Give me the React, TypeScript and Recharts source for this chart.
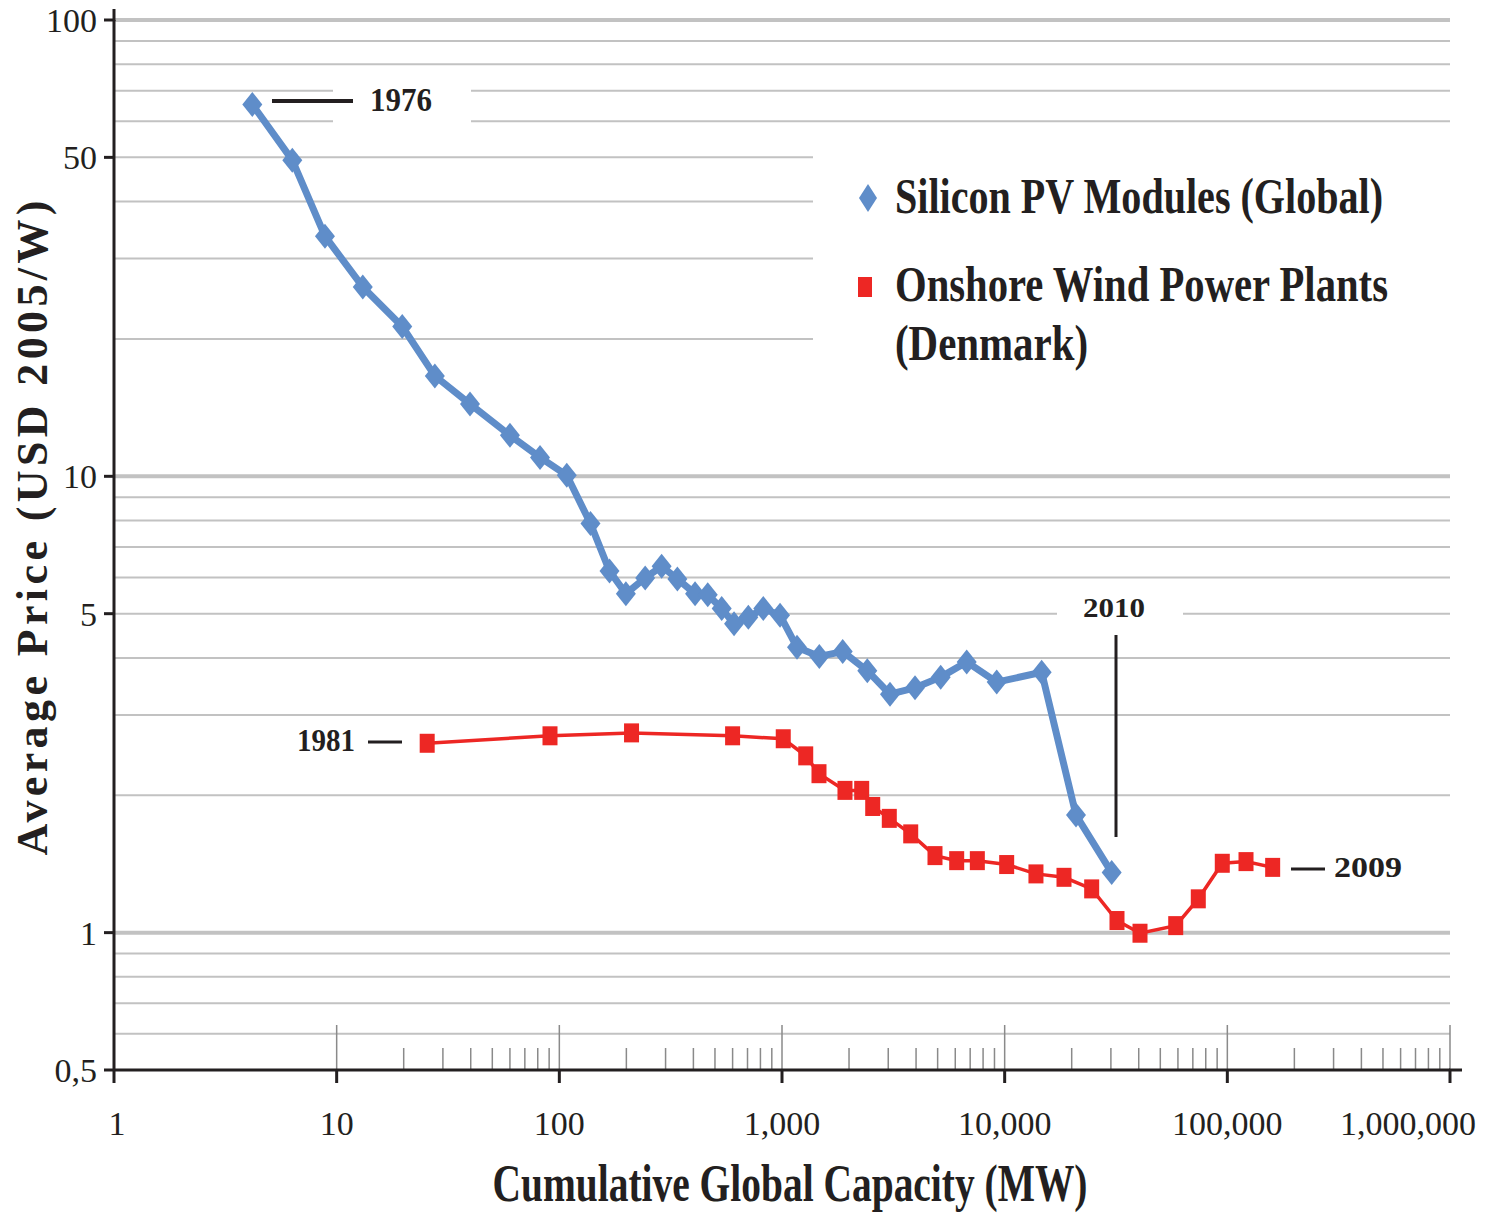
import React from 'react';
import { LineChart, Line, XAxis, YAxis, ReferenceLine } from 'recharts';

// ---- data ----
const pvCapacity = [4.18, 6.32, 8.86, 13.1, 19.7, 27.6, 39.7, 60.0, 81.9, 108, 138, 168, 199, 243, 288, 339, 407, 464, 536, 609, 706, 824, 980, 1168, 1471, 1873, 2416, 3055, 3957, 5160, 6753, 9210, 14660, 20910, 30240];
const pvPrice = [65.3, 49.3, 33.6, 26.0, 21.3, 16.6, 14.4, 12.3, 11.0, 10.05, 7.88, 6.2, 5.53, 5.99, 6.35, 5.96, 5.53, 5.5, 5.13, 4.75, 4.91, 5.13, 4.96, 4.22, 4.03, 4.13, 3.75, 3.33, 3.44, 3.63, 3.92, 3.54, 3.72, 1.81, 1.354];
const windCapacity = [25.5, 90.8, 211, 600, 1013, 1278, 1466, 1918, 2280, 2555, 3033, 3785, 4865, 6089, 7538, 10210, 13820, 18470, 24590, 31950, 40530, 58640, 74060, 94910, 121300, 159800];
const windPrice = [2.6, 2.7, 2.74, 2.7, 2.66, 2.44, 2.23, 2.05, 2.05, 1.89, 1.78, 1.646, 1.475, 1.438, 1.438, 1.41, 1.345, 1.322, 1.247, 1.063, 0.997, 1.036, 1.186, 1.419, 1.431, 1.39];

const xTicks = [1, 10, 100, 1000, 10000, 100000, 1000000];
const xTickLabels = ['1', '10', '100', '1,000', '10,000', '100,000', '1,000,000'];
const yTicks = [0.5, 1, 5, 10, 50, 100];
const yTickLabels = ['0,5', '1', '5', '10', '50', '100'];
const yGridMinor = [0.6, 0.7, 0.8, 0.9, 2, 3, 4, 5, 6, 7, 8, 9, 20, 30, 40, 50, 60, 70, 80, 90];
const yGridMajor = [1, 10, 100];
const xMinorTicks = [20, 30, 40, 50, 60, 70, 80, 90, 200, 300, 400, 500, 600, 700, 800, 900, 2000, 3000, 4000, 5000, 6000, 7000, 8000, 9000, 20000, 30000, 40000, 50000, 60000, 70000, 80000, 90000, 200000, 300000, 400000, 500000, 600000, 700000, 800000, 900000];
const xMajorInner = [10, 100, 1000, 10000, 100000, 1000000];

const seriesNames = ['Silicon PV Modules (Global)', 'Onshore Wind Power Plants', '(Denmark)'];
const yearLabels = ['1976', '1981', '2010', '2009'];

const pvData = pvCapacity.map((x, i) => ({ x, y: pvPrice[i] }));
const windData = windCapacity.map((x, i) => ({ x, y: windPrice[i] }));

const BLUE = '#5F8DC9';
const RED = '#ED2724';
const INK = '#231f20';
const GRID = '#c2c2c2';
const FONT = '"Liberation Serif", "DejaVu Serif", serif';

const minorTop = 0.5 * Math.pow(10, 22 / 456);
const majorTop = 0.5 * Math.pow(10, 45 / 456);

const renderDiamond = (p: any) => {
  const { cx, cy, index } = p;
  if (cx == null || cy == null) return <g key={`d${index}`} />;
  return <path key={`d${index}`} d={`M${cx},${cy - 12.5}L${cx + 10},${cy}L${cx},${cy + 12.5}L${cx - 10},${cy}Z`} fill={BLUE} />;
};
const renderSquare = (p: any) => {
  const { cx, cy, index } = p;
  if (cx == null || cy == null) return <g key={`s${index}`} />;
  return <rect key={`s${index}`} x={cx - 7.5} y={cy - 9.5} width={15} height={19} fill={RED} />;
};

const XTick = (props: any) => {
  const { x, y, index } = props;
  const dx = index === 6 ? -42 : index === 0 ? 3 : 0;
  return (
    <text x={x + dx} y={y} dy="0.71em" textAnchor="middle" fontFamily={FONT} fontSize={34} fill={INK}>
      {xTickLabels[index]}
    </text>
  );
};

const TallText = ({ x, y, size, sy, len, children, bold = true, anchor = 'start' }: any) => (
  <text
    transform={`translate(${x},${y}) scale(1,${sy})`}
    x={0}
    y={0}
    textAnchor={anchor}
    fontFamily={FONT}
    fontWeight={bold ? 'bold' : 'normal'}
    fontSize={size}
    fill={INK}
    textLength={len}
    lengthAdjust="spacingAndGlyphs"
  >
    {children}
  </text>
);

export default function App() {
  return (
    <div style={{ position: 'absolute', left: 0, top: 0, width: 1493, height: 1215, background: '#fff' }}>
      <LineChart width={1493} height={1215} margin={{ top: 20, right: 43, bottom: 85, left: 0 }}>
        <XAxis
          type="number"
          dataKey="x"
          scale="log"
          domain={[1, 1000000]}
          ticks={xTicks}
          interval={0}
          allowDataOverflow
          height={60}
          axisLine={{ stroke: INK, strokeWidth: 3 }}
          tickLine={{ stroke: INK, strokeWidth: 3 }}
          tickSize={13}
          tickMargin={28}
          tick={<XTick />}
        />
        <YAxis
          type="number"
          dataKey="y"
          scale="log"
          domain={[0.5, 100]}
          ticks={yTicks}
          interval={0}
          allowDataOverflow
          width={114}
          axisLine={{ stroke: INK, strokeWidth: 3 }}
          tickLine={{ stroke: INK, strokeWidth: 3 }}
          tickSize={10}
          tickMargin={7}
          tickFormatter={(v: number, i: number) => yTickLabels[i]}
          tick={{ fontFamily: FONT, fontSize: 34, fill: INK }}
        />
        {yGridMinor.map((v) => (
          <ReferenceLine key={`gm${v}`} y={v} stroke={GRID} strokeWidth={2} />
        ))}
        {yGridMajor.map((v) => (
          <ReferenceLine key={`gM${v}`} y={v} stroke={GRID} strokeWidth={4} />
        ))}
        {xMinorTicks.map((v) => (
          <ReferenceLine key={`xm${v}`} segment={[{ x: v, y: 0.5 }, { x: v, y: minorTop }]} stroke="#8a8a8a" strokeWidth={1.5} />
        ))}
        {xMajorInner.map((v) => (
          <ReferenceLine key={`xM${v}`} segment={[{ x: v, y: 0.5 }, { x: v, y: majorTop }]} stroke="#8a8a8a" strokeWidth={1.5} />
        ))}
        <Line
          data={windData}
          dataKey="y"
          type="linear"
          stroke={RED}
          strokeWidth={3.5}
          dot={renderSquare}
          activeDot={false}
          isAnimationActive={false}
        />
        <Line
          data={pvData}
          dataKey="y"
          type="linear"
          stroke={BLUE}
          strokeWidth={7}
          strokeLinejoin="round"
          dot={renderDiamond}
          activeDot={false}
          isAnimationActive={false}
        />
      </LineChart>
      <svg width={1493} height={1215} style={{ position: 'absolute', left: 0, top: 0, pointerEvents: 'none' }}>
        {/* axis extensions */}
        <line x1={114} y1={9} x2={114} y2={21} stroke={INK} strokeWidth={3} />
        <line x1={1449} y1={1070} x2={1462} y2={1070} stroke={INK} strokeWidth={3} />
        {/* label backgrounds */}
        <rect x={333} y={70} width={138} height={65} fill="#fff" />
        <rect x={813} y={133} width={645} height={270} fill="#fff" />
        <rect x={1057} y={583} width={126} height={44} fill="#fff" />
        {/* annotations */}
        <line x1={272} y1={101} x2={353} y2={101} stroke={INK} strokeWidth={4} />
        <TallText x={370} y={111} size={30} sy={1.15} len={62}>{yearLabels[0]}</TallText>
        <TallText x={297} y={751} size={28} sy={1.1} len={58}>{yearLabels[1]}</TallText>
        <line x1={368} y1={742} x2={402} y2={742} stroke={INK} strokeWidth={3} />
        <TallText x={1114} y={617} size={28} sy={1} len={62} anchor="middle">{yearLabels[2]}</TallText>
        <line x1={1116} y1={635} x2={1116} y2={837} stroke={INK} strokeWidth={3} />
        <line x1={1291} y1={869} x2={1325} y2={869} stroke={INK} strokeWidth={3} />
        <TallText x={1334} y={877} size={29} sy={1.05} len={68}>{yearLabels[3]}</TallText>
        {/* legend */}
        <path d="M868,184L877,198L868,212L859,198Z" fill={BLUE} />
        <TallText x={895} y={213} size={40} sy={1.25} len={488}>{seriesNames[0]}</TallText>
        <rect x={858} y={277} width={14} height={20} fill={RED} />
        <TallText x={895} y={301} size={40} sy={1.25} len={493}>{seriesNames[1]}</TallText>
        <TallText x={895} y={360} size={40} sy={1.25} len={193}>{seriesNames[2]}</TallText>
        {/* axis titles */}
        <text transform="rotate(-90)" x={-528} y={47} textAnchor="middle" fontFamily={FONT} fontWeight="bold" fontSize={44} fill={INK} textLength={655} lengthAdjust="spacing">Average Price (USD 2005/W)</text>
        <TallText x={790} y={1201} size={40} sy={1.3} len={595} anchor="middle">Cumulative Global Capacity (MW)</TallText>
      </svg>
    </div>
  );
}
